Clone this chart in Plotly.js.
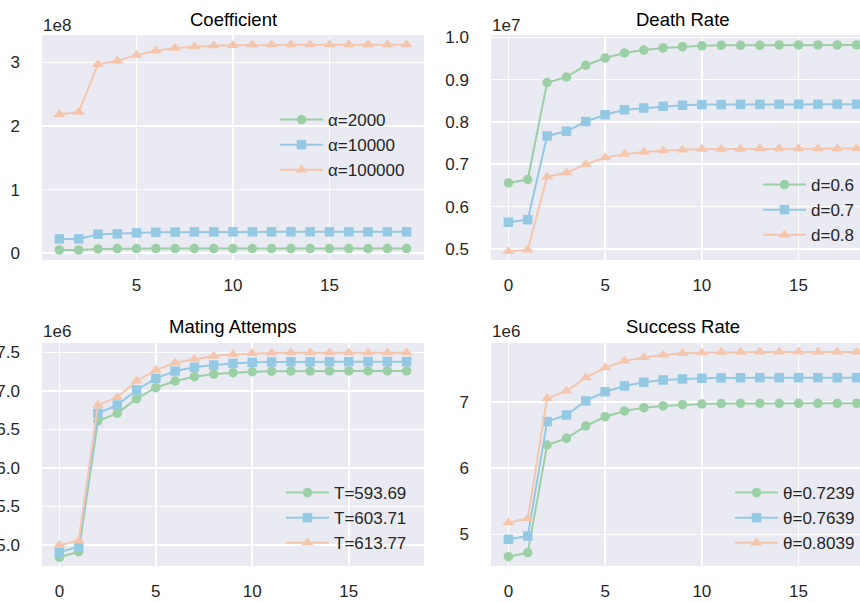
<!DOCTYPE html>
<html>
<head>
<meta charset="utf-8">
<script src="https://cdn.plot.ly/plotly-3.0.1.min.js"></script>
<style>
html,body{margin:0;padding:0;overflow:hidden;background:#fff;width:860px;height:603px;}
#chart{position:absolute;left:0;top:0;width:900px;height:603px;}
</style>
</head>
<body>
<div id="chart"></div>
<script>
// x values
const xCoef = [1,2,3,4,5,6,7,8,9,10,11,12,13,14,15,16,17,18,19];
const xIter = [0,1,2,3,4,5,6,7,8,9,10,11,12,13,14,15,16,17,18];

// Coefficient (units of 1e8)
const coefLabels = ['α=2000','α=10000','α=100000'];
const coefA2000   = [0.052,0.052,0.068,0.073,0.073,0.073,0.073,0.073,0.073,0.073,0.073,0.073,0.073,0.073,0.073,0.073,0.073,0.073,0.073];
const coefA10000  = [0.226,0.226,0.300,0.305,0.320,0.330,0.333,0.336,0.336,0.337,0.337,0.337,0.337,0.337,0.337,0.337,0.337,0.337,0.337];
const coefA100000 = [2.184,2.220,2.970,3.026,3.115,3.183,3.226,3.247,3.263,3.268,3.275,3.278,3.278,3.278,3.278,3.278,3.278,3.278,3.278];

// Death Rate (units of 1e7)
const deathLabels = ['d=0.6','d=0.7','d=0.8'];
const death06 = [0.656,0.664,0.893,0.906,0.934,0.951,0.963,0.970,0.975,0.978,0.980,0.981,0.981,0.981,0.982,0.982,0.982,0.982,0.982];
const death07 = [0.563,0.569,0.767,0.778,0.801,0.817,0.829,0.833,0.837,0.8395,0.841,0.841,0.8415,0.8415,0.842,0.842,0.842,0.842,0.842];
const death08 = [0.494,0.498,0.670,0.680,0.700,0.716,0.724,0.729,0.732,0.734,0.736,0.736,0.736,0.737,0.737,0.737,0.737,0.737,0.737];

// Mating Attemps (units of 1e6)
const matingLabels = ['T=593.69','T=603.71','T=613.77'];
const mating1 = [4.840,4.913,6.609,6.708,6.898,7.041,7.128,7.184,7.218,7.235,7.248,7.254,7.257,7.257,7.258,7.258,7.258,7.258,7.258];
const mating2 = [4.905,4.978,6.709,6.816,7.011,7.162,7.257,7.305,7.335,7.357,7.370,7.375,7.378,7.378,7.379,7.379,7.379,7.379,7.379];
const mating3 = [5.000,5.056,6.816,6.916,7.128,7.270,7.365,7.413,7.452,7.474,7.487,7.492,7.495,7.495,7.496,7.496,7.496,7.496,7.496];

// Success Rate (units of 1e6)
const successLabels = ['θ=0.7239','θ=0.7639','θ=0.8039'];
const success1 = [4.661,4.721,6.353,6.454,6.641,6.782,6.868,6.919,6.944,6.964,6.974,6.980,6.984,6.985,6.985,6.985,6.985,6.985,6.985];
const success2 = [4.924,4.974,6.707,6.808,7.020,7.160,7.247,7.303,7.338,7.353,7.364,7.369,7.372,7.373,7.373,7.373,7.373,7.373,7.373];
const success3 = [5.176,5.242,7.060,7.171,7.373,7.524,7.626,7.680,7.717,7.742,7.752,7.758,7.761,7.762,7.762,7.762,7.762,7.762,7.762];

const titles = ['Coefficient','Death Rate','Mating Attemps','Success Rate'];
const offsets = ['1e8','1e7','1e6','1e6'];

// styling
const colors = ['#9bcfa6','#94c9e3','#f5c6ae'];
const symbols = ['circle','square','triangle-up'];
const msizes = [9.5,9.5,10.5];
const W = 900, H = 603;
const FONT = 'Liberation Sans, Arial, Helvetica, sans-serif';
const TXT = '#262626';

const panels = [
  {x:xCoef, ys:[coefA2000,coefA10000,coefA100000], names:coefLabels, xa:'x', ya:'y', leg:'legend'},
  {x:xIter, ys:[death06,death07,death08], names:deathLabels, xa:'x2', ya:'y2', leg:'legend2'},
  {x:xIter, ys:[mating1,mating2,mating3], names:matingLabels, xa:'x3', ya:'y3', leg:'legend3'},
  {x:xIter, ys:[success1,success2,success3], names:successLabels, xa:'x4', ya:'y4', leg:'legend4'}
];

const traces = [];
panels.forEach(p => {
  p.ys.forEach((y,i) => {
    traces.push({
      x:p.x, y:y, name:p.names[i], type:'scatter', mode:'lines+markers',
      xaxis:p.xa, yaxis:p.ya, legend:p.leg,
      line:{color:colors[i], width:2},
      marker:{color:colors[i], symbol:symbols[i], size:msizes[i]},
      hoverinfo:'skip'
    });
  });
});

// pixel geometry (page coords)
const cols = [[42,424],[491,874]];
const rows = [[35,260],[343,566]];
const dx = c => [cols[c][0]/W, cols[c][1]/W];
const dy = r => [1-rows[r][1]/H, 1-rows[r][0]/H];

function xax(c, r, range){
  return {domain:dx(c), range:range, dtick:5, tick0:0,
    showgrid:true, gridcolor:'#ffffff', gridwidth:1.6, zeroline:false, showline:false,
    ticks:'', ticklabelstandoff:13, tickfont:{family:FONT,size:17,color:TXT}, automargin:false, fixedrange:true};
}
function yax(c, r, range, dt, fmt){
  return {domain:dy(r), range:range, dtick:dt, tick0:0, tickformat:fmt,
    showgrid:true, gridcolor:'#ffffff', gridwidth:1.6, zeroline:false, showline:false,
    ticks:'', ticklabelstandoff:21, tickfont:{family:FONT,size:17,color:TXT}, automargin:false, fixedrange:true};
}

const layout = {
  width:W, height:H,
  margin:{l:0,r:0,t:0,b:0},
  paper_bgcolor:'#ffffff',
  plot_bgcolor:'#eaeaf2',
  font:{family:FONT, color:TXT, size:17},
  xaxis: Object.assign(xax(0,0,[0.1,19.9]),{anchor:'y'}),
  yaxis: Object.assign(yax(0,0,[-0.106,3.431],1,''),{anchor:'x'}),
  xaxis2: Object.assign(xax(1,0,[-0.9,18.9]),{anchor:'y2'}),
  yaxis2: Object.assign(yax(1,0,[0.4738,1.0055],0.1,'.1f'),{anchor:'x2'}),
  xaxis3: Object.assign(xax(0,1,[-0.9,18.9]),{anchor:'y3'}),
  yaxis3: Object.assign(yax(0,1,[4.727,7.621],0.5,'.1f'),{anchor:'x3'}),
  xaxis4: Object.assign(xax(1,1,[-0.9,18.9]),{anchor:'y4'}),
  yaxis4: Object.assign(yax(1,1,[4.52,7.898],1,''),{anchor:'x4'}),
  showlegend:true,
  annotations:[]
};

const legendPos = [
  {x:275, y:102},
  {x:758, y:167},
  {x:281, y:475},
  {x:730, y:475}
];
['legend','legend2','legend3','legend4'].forEach((k,i) => {
  layout[k] = {x:legendPos[i].x/W, y:1-legendPos[i].y/H, xanchor:'left', yanchor:'top',
    bgcolor:'rgba(0,0,0,0)', borderwidth:0, itemwidth:43,
    font:{family:FONT,size:17,color:TXT}, itemclick:false, itemdoubleclick:false};
});

const titleOff = [15.5, 17];
const offOff = [9.5, 12];
for (let r=0;r<2;r++){
  for (let c=0;c<2;c++){
    const idx = r*2+c;
    const cx = (cols[c][0]+cols[c][1])/2;
    layout.annotations.push({
      text:titles[idx], xref:'paper', yref:'paper', showarrow:false,
      x:cx/W, y:1-(rows[r][0]-titleOff[r])/H, xanchor:'center', yanchor:'middle',
      font:{family:FONT,size:18.5,color:'#000000'}
    });
    layout.annotations.push({
      text:offsets[idx], xref:'paper', yref:'paper', showarrow:false,
      x:(cols[c][0]-1)/W, y:1-(rows[r][0]-offOff[r])/H, xanchor:'left', yanchor:'middle',
      font:{family:FONT,size:17,color:TXT}
    });
  }
}

Plotly.newPlot('chart', traces, layout, {staticPlot:true, displayModeBar:false});
</script>
</body>
</html>
